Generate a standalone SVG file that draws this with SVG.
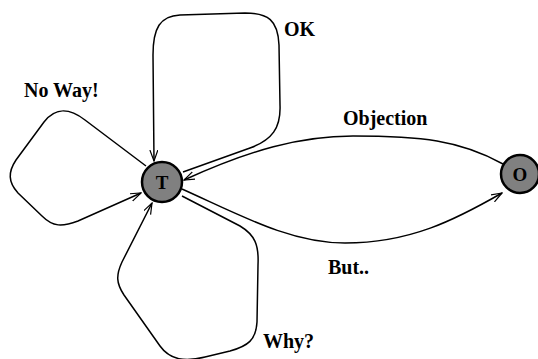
<svg xmlns="http://www.w3.org/2000/svg" width="538" height="359" viewBox="0 0 538 359">
<style>
.edge{fill:none;stroke:#000;stroke-width:1.5;marker-end:url(#arr)}
.node circle{fill:#808080;stroke:#000;stroke-width:2.5}
.node text{font-family:"Liberation Serif",serif;font-weight:bold;font-size:19px;text-anchor:middle}
.lbl{font-family:"Liberation Serif",serif;font-weight:bold;font-size:20px}
</style>
<defs>
<marker id="arr" markerWidth="12" markerHeight="10" refX="11" refY="4" orient="auto" markerUnits="userSpaceOnUse">
<path d="M0,0 L11,4 L0,8" fill="none" stroke="#000" stroke-width="1.2"/>
</marker>
</defs>
<rect width="538" height="359" fill="#fff"/>
<g id="connectors">
<path class="edge" d="M183,172 L250,148 C272,140 281,128 280,105 L279,45 C278,20 268,13 245,13 L180,15 C160,16 153,28 153,55 L154,161"/>
<path class="edge" d="M503,164 C460,140 420,136 353,136 C300,136 250,150 184,180"/>
<path class="edge" d="M182,189 C240,215 290,243 345,243 C410,243 455,220 502,193"/>
<path class="edge" d="M182,196 L240,226 C255,235 259,245 258,265 L257,322 C256,340 248,346 230,351 L205,357 C185,362 170,360 160,346 L124,295 C116,283 116,275 122,262 L152,203"/>
<path class="edge" d="M146,166 L85,120 C68,107 55,108 44,122 L16,160 C8,172 8,182 18,193 L42,216 C53,227 62,227 78,221 L141,193"/>
</g>
<g id="label-ok"><text class="lbl" x="284" y="36">OK</text></g>
<g id="label-noway"><text class="lbl" x="24" y="97">No Way!</text></g>
<g id="label-objection"><text class="lbl" x="343" y="125">Objection</text></g>
<g id="label-but"><text class="lbl" x="328" y="274">But..</text></g>
<g id="label-why"><text class="lbl" x="263" y="348">Why?</text></g>
<g id="node-T" class="node"><circle cx="162" cy="182" r="20"/><text x="162" y="189">T</text></g>
<g id="node-O" class="node"><circle cx="520" cy="174" r="19"/><text x="520" y="181">O</text></g>
</svg>
